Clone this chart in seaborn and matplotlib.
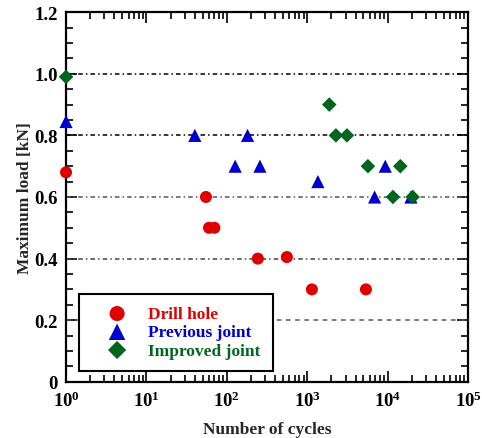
import matplotlib
matplotlib.use("Agg")
import matplotlib.pyplot as plt
from matplotlib.ticker import LogLocator, MultipleLocator, FixedLocator, FixedFormatter, NullFormatter
import numpy as np
import pandas as pd
import seaborn as sns

# values
drill_cycles = [1, 55, 60, 70, 243, 558, 1143, 5370]
drill_load = [0.68, 0.60, 0.50, 0.50, 0.40, 0.405, 0.30, 0.30]

previous_cycles = [1, 40, 181, 127, 258, 1358, 6890, 9350, 19500]
previous_load = [0.845, 0.80, 0.80, 0.70, 0.70, 0.65, 0.60, 0.70, 0.60]

improved_cycles = [1, 1880, 2275, 3120, 5690, 14380, 11650, 20470]
improved_load = [0.99, 0.90, 0.80, 0.80, 0.70, 0.70, 0.60, 0.60]

series_names = ["Drill hole", "Previous joint", "Improved joint"]
series_colors = ["#e00000", "#0000cc", "#00661f"]
series_markers = ["o", "^", "D"]
series_sizes = [75, 90, 55]

y_ticks = [0, 0.2, 0.4, 0.6, 0.8, 1.0, 1.2]
y_ticklabels = ["0", "0.2", "0.4", "0.6", "0.8", "1.0", "1.2"]

sns.set_style("ticks")
plt.rcParams["font.family"] = ["Liberation Serif", "DejaVu Serif"]
plt.rcParams["font.weight"] = "bold"
plt.rcParams["mathtext.fontset"] = "custom"
plt.rcParams["mathtext.rm"] = "Liberation Serif:bold"
plt.rcParams["mathtext.bf"] = "Liberation Serif:bold"
plt.rcParams["mathtext.default"] = "bf"

fig = plt.figure(figsize=(4.82, 4.39), dpi=100)
ax = fig.add_axes([0.137, 0.128, 0.834, 0.842])

# horizontal guide lines
grid_styles = {0.2: ("#555555", (0, (3, 3))), 0.4: ("#444444", (0, (3, 2, 1, 2))),
               0.6: ("#555555", (0, (3, 2, 1, 2))), 0.8: ("#000000", (0, (3, 2, 1, 2))),
               1.0: ("#000000", (0, (3, 2, 1, 2)))}
for yv, (col, ls) in grid_styles.items():
    ax.axhline(yv, color=col, lw=1.1, ls=ls, zorder=1)

for name, xs, ys, col, mk, sz in zip(series_names,
                                     [drill_cycles, previous_cycles, improved_cycles],
                                     [drill_load, previous_load, improved_load],
                                     series_colors, series_markers, series_sizes):
    sns.scatterplot(x=xs, y=ys, color=col, marker=mk, s=sz, edgecolor="none",
                    linewidth=0, ax=ax, zorder=3, clip_on=False, label=name)

ax.set_xscale("log")
ax.set_xlim(1, 1e5)
ax.set_ylim(0, 1.2)

ax.xaxis.set_major_locator(LogLocator(base=10, numticks=10))
ax.xaxis.set_minor_locator(LogLocator(base=10, subs=np.arange(2, 10), numticks=50))
ax.xaxis.set_minor_formatter(NullFormatter())
ax.yaxis.set_major_locator(FixedLocator(y_ticks))
ax.yaxis.set_major_formatter(FixedFormatter(y_ticklabels))
ax.yaxis.set_minor_locator(MultipleLocator(0.05))

ax.tick_params(which="both", direction="in", top=True, right=True, width=1.2,
               labelsize=13.5, colors="black")
ax.tick_params(which="major", length=8, pad=6)
ax.tick_params(which="minor", length=5)
for lab in ax.get_xticklabels() + ax.get_yticklabels():
    lab.set_fontweight("bold")

for sp in ax.spines.values():
    sp.set_linewidth(1.6)
    sp.set_color("black")

ax.set_xlabel("Number of cycles", fontsize=12.5, fontweight="bold", labelpad=8)
ax.set_ylabel("Maximum load [kN]", fontsize=12.5, fontweight="bold", labelpad=1)

handles, labels = ax.get_legend_handles_labels()
leg = ax.legend(handles, labels, loc="lower left", bbox_to_anchor=(0.032, 0.03),
                frameon=True, fancybox=False, edgecolor="black", framealpha=1,
                fontsize=12.5, labelcolor=series_colors, handlelength=3.0,
                handletextpad=0.3, borderpad=0.7, labelspacing=0.12,
                borderaxespad=0, markerscale=1.25)
leg.get_frame().set_linewidth(1.5)
leg.set_zorder(5)
for t in leg.get_texts():
    t.set_fontweight("bold")

fig.savefig("out.png", dpi=100)
